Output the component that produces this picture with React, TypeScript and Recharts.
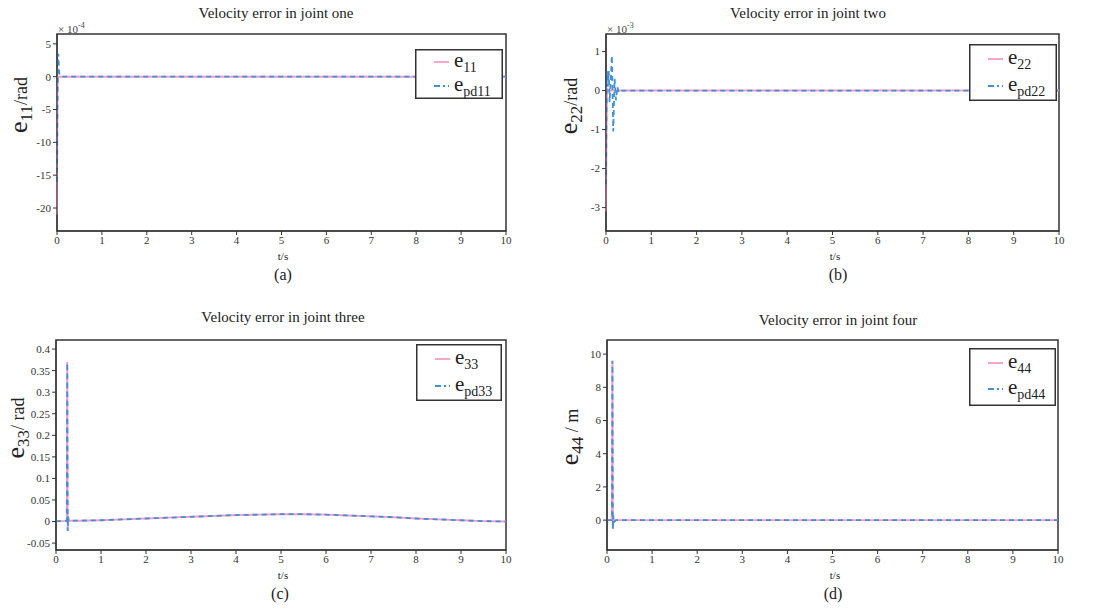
// Erreurs de vitesse des quatre articulations : 4 petits graphiques Recharts.
import React from 'react';
import { LineChart, Line, XAxis, YAxis, ReferenceArea } from 'recharts';

const PINK = '#f79bc3';
const BLUE = '#4190d8';
const AXIS = '#333333';
const SERIF = '"Liberation Serif", "Times New Roman", serif';

const timeTicks = [0, 1, 2, 3, 4, 5, 6, 7, 8, 9, 10];

// (a) joint one, en 1e-4 rad
const tA = [0, 0.005, 0.01, 0.02, 0.03, 0.04, 0.05, 0.08, 0.1, 1, 2, 3, 4, 5, 6, 7, 8, 9, 10];
const e11 = [-21, -10, -2, 0, 0, 0, 0, 0, 0, 0, 0, 0, 0, 0, 0, 0, 0, 0, 0];
const epd11 = [-16, -9, -4, 1.5, 3.5, 2, 0.5, 0, 0, 0, 0, 0, 0, 0, 0, 0, 0, 0, 0];
const ticksA = [-20, -15, -10, -5, 0, 5];

// (b) joint two, en 1e-3 rad
const tB = [0, 0.01, 0.02, 0.04, 0.06, 0.08, 0.1, 0.13, 0.16, 0.19, 0.22, 0.25, 0.28, 0.32, 0.5, 1, 2, 3, 4, 5, 6, 7, 8, 9, 10];
const e22 = [-3.1, -1.2, 0.05, 0.02, 0, 0, 0, 0, 0, 0, 0, 0, 0, 0, 0, 0, 0, 0, 0, 0, 0, 0, 0, 0, 0];
const epd22 = [-2.4, -0.5, 0.5, 0.1, 0.5, -0.3, 0.2, 0.9, -1.05, 0.3, -0.25, 0.1, -0.05, 0, 0, 0, 0, 0, 0, 0, 0, 0, 0, 0, 0];
const ticksB = [-3, -2, -1, 0, 1];

// (c) joint three, en rad
const tC = [0, 0.1, 0.2, 0.24, 0.25, 0.26, 0.27, 0.28, 0.3, 0.5, 1, 1.5, 2, 2.5, 3, 3.5, 4, 4.5, 5, 5.5, 6, 6.5, 7, 7.5, 8, 8.5, 9, 9.5, 10];
const e33 = [0.001, 0.001, 0.0015, 0.002, 0.37, -0.02, 0.01, 0.002, 0.002, 0.002, 0.003, 0.005, 0.007, 0.009, 0.011, 0.013, 0.015, 0.016, 0.017, 0.017, 0.016, 0.014, 0.012, 0.01, 0.007, 0.005, 0.003, 0.001, 0];
const epd33 = [0.001, 0.001, 0.0015, 0.002, 0.368, -0.022, 0.012, 0.002, 0.002, 0.002, 0.003, 0.005, 0.007, 0.009, 0.011, 0.013, 0.015, 0.016, 0.017, 0.017, 0.016, 0.014, 0.012, 0.01, 0.007, 0.005, 0.003, 0.001, 0];
const ticksC = [-0.05, 0, 0.05, 0.1, 0.15, 0.2, 0.25, 0.3, 0.35, 0.4];

// (d) joint four, en m
const tD = [0, 0.05, 0.1, 0.11, 0.12, 0.13, 0.14, 0.16, 0.2, 0.5, 1, 2, 3, 4, 5, 6, 7, 8, 9, 10];
const e44 = [0, 0, 0, 0.5, 9.55, -0.5, 0.2, -0.1, 0, 0, 0, 0, 0, 0, 0, 0, 0, 0, 0, 0];
const epd44 = [0, 0, 0, 0.3, 9.6, -0.55, 0.25, -0.1, 0, 0, 0, 0, 0, 0, 0, 0, 0, 0, 0, 0];
const ticksD = [0, 2, 4, 6, 8, 10];

type PanelProps = {
  left: number;
  top: number;
  width: number;
  height: number;
  margin: { top: number; right: number; bottom: number; left: number };
  t: number[];
  s1: number[];
  s2: number[];
  domain: [number, number];
  yTicks: number[];
  title: string;
  titleX: number;
  titleY: number;
  tag: string;
  tagX: number;
  tagY: number;
  tsX: number;
  tsY: number;
  sub: string;
  unit: string;
  yLabX: number;
  yLabY: number;
  legend: { x: number; y: number; w: number; h: number; r1: number; r2: number };
  exponent?: string;
};

function Panel(p: PanelProps) {
  const data = p.t.map((x, i) => ({ t: x, a: p.s1[i], b: p.s2[i] }));
  const tickStyle = { fontSize: 11, fill: AXIS, fontFamily: SERIF };
  const abs = (x: number, y: number): React.CSSProperties => ({
    position: 'absolute',
    left: x,
    top: y,
    transform: 'translate(-50%, -50%)',
    whiteSpace: 'nowrap',
    fontFamily: SERIF,
    color: '#222',
    lineHeight: 1,
  });
  const lg = p.legend;
  return (
    <>
      <div style={{ position: 'absolute', left: p.left, top: p.top }}>
        <LineChart width={p.width} height={p.height} data={data} margin={p.margin}>
          <XAxis
            dataKey="t"
            type="number"
            domain={[0, 10]}
            ticks={timeTicks}
            height={30}
            tick={tickStyle}
            tickSize={4}
            tickMargin={1}
            stroke={AXIS}
          />
          <YAxis
            type="number"
            domain={p.domain}
            ticks={p.yTicks}
            allowDataOverflow
            width={45}
            tick={tickStyle}
            tickSize={4}
            tickMargin={2}
            stroke={AXIS}
          />
          {/* cadre du graphique */}
          <ReferenceArea x1={0} x2={10} y1={p.domain[0]} y2={p.domain[1]} fill="none" stroke={AXIS} strokeWidth={1.5} />
          <Line dataKey="a" type="linear" stroke={PINK} strokeWidth={1.9} dot={false} isAnimationActive={false} />
          <Line dataKey="b" type="linear" stroke={BLUE} strokeWidth={1.8} strokeDasharray="5 4" dot={false} isAnimationActive={false} />
        </LineChart>
      </div>
      <div style={{ ...abs(p.titleX, p.titleY), fontSize: 15 }}>{p.title}</div>
      <div style={{ ...abs(p.tsX, p.tsY), fontSize: 11 }}>t/s</div>
      <div style={{ ...abs(p.tagX, p.tagY), fontSize: 16 }}>{p.tag}</div>
      {p.exponent && (
        <div style={{ position: 'absolute', left: p.left + p.margin.left + 46, top: p.top + p.margin.top - 12, fontFamily: SERIF, fontSize: 11, color: '#444', lineHeight: 1 }}>
          × 10<sup style={{ fontSize: 8 }}>{p.exponent}</sup>
        </div>
      )}
      <div style={{ ...abs(p.yLabX, p.yLabY), transform: 'translate(-50%, -50%) rotate(-90deg)' }}>
        <span style={{ fontSize: 26 }}>e</span>
        <span style={{ fontSize: 17, position: 'relative', top: 5 }}>{p.sub}</span>
        <span style={{ fontSize: 18 }}>{p.unit}</span>
      </div>
      <svg style={{ position: 'absolute', left: lg.x, top: lg.y }} width={lg.w} height={lg.h}>
        <rect x={0.75} y={0.75} width={lg.w - 1.5} height={lg.h - 1.5} fill="#fff" stroke={AXIS} strokeWidth={1.5} />
        <line x1={19} x2={34} y1={lg.r1} y2={lg.r1} stroke={PINK} strokeWidth={1.8} />
        <line x1={19} x2={34} y1={lg.r2} y2={lg.r2} stroke={BLUE} strokeWidth={1.8} strokeDasharray="6 3 2 3" />
        <text x={39} y={lg.r1 + 5} fontFamily={SERIF} fontSize={21} fill="#222">
          e<tspan fontSize={14} dy={5}>{p.sub}</tspan>
        </text>
        <text x={39} y={lg.r2 + 5} fontFamily={SERIF} fontSize={21} fill="#222">
          e<tspan fontSize={14} dy={5}>{'pd' + p.sub}</tspan>
        </text>
      </svg>
    </>
  );
}

export default function App() {
  const topMargin = { top: 34, bottom: 39 };
  const botMargin = { top: 40, bottom: 29 };
  return (
    <div style={{ position: 'absolute', left: 0, top: 0, width: 1101, height: 609, background: '#fff', overflow: 'hidden' }}>
      <Panel
        left={0} top={0} width={550} height={300}
        margin={{ ...topMargin, left: 12, right: 44 }}
        t={tA} s1={e11} s2={epd11} domain={[-23.5, 6.5]} yTicks={ticksA}
        title="Velocity error in joint one" titleX={276} titleY={13}
        tag="(a)" tagX={283} tagY={275} tsX={283} tsY={256}
        sub="11" unit="/rad" yLabX={19} yLabY={105}
        legend={{ x: 415, y: 49, w: 88, h: 50, r1: 13, r2: 37 }}
        exponent="-4"
      />
      <Panel
        left={550} top={0} width={551} height={300}
        margin={{ ...topMargin, left: 11, right: 42 }}
        t={tB} s1={e22} s2={epd22} domain={[-3.6, 1.45]} yTicks={ticksB}
        title="Velocity error in joint two" titleX={808} titleY={13}
        tag="(b)" tagX={838} tagY={275} tsX={835} tsY={256}
        sub="22" unit="/rad" yLabX={569} yLabY={106}
        legend={{ x: 969, y: 44, w: 88, h: 57, r1: 15, r2: 42 }}
        exponent="-3"
      />
      <Panel
        left={0} top={300} width={550} height={309}
        margin={{ ...botMargin, left: 11, right: 44 }}
        t={tC} s1={e33} s2={epd33} domain={[-0.066, 0.421]} yTicks={ticksC}
        title="Velocity error in joint three" titleX={283} titleY={317}
        tag="(c)" tagX={280} tagY={594} tsX={283} tsY={575}
        sub="33" unit="/ rad" yLabX={16} yLabY={428}
        legend={{ x: 416, y: 344, w: 86, h: 57, r1: 15, r2: 42 }}
      />
      <Panel
        left={550} top={300} width={551} height={309}
        margin={{ ...botMargin, left: 12, right: 43 }}
        t={tD} s1={e44} s2={epd44} domain={[-1.8, 10.85]} yTicks={ticksD}
        title="Velocity error in joint four" titleX={838} titleY={320}
        tag="(d)" tagX={833} tagY={594} tsX={835} tsY={575}
        sub="44" unit=" / m" yLabX={570} yLabY={437}
        legend={{ x: 969, y: 348, w: 87, h: 58, r1: 15, r2: 41 }}
      />
    </div>
  );
}
